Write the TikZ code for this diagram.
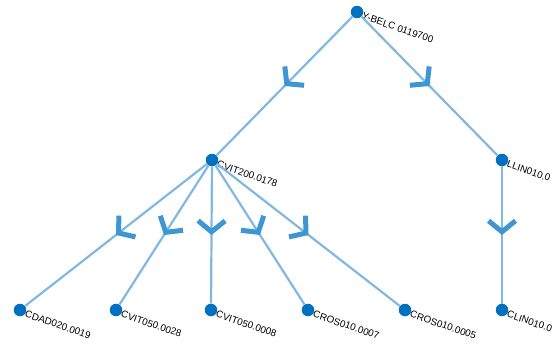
\documentclass[tikz,border=0pt]{standalone}
\usepackage{fontspec}
\setmainfont{Liberation Sans}
\usetikzlibrary{arrows.meta,decorations.markings}

\definecolor{nodeblue}{RGB}{0,112,192}
\definecolor{edgeblue}{RGB}{128,184,226}
\definecolor{chevblue}{RGB}{62,150,210}

\tikzset{
  leaf/.style={circle, fill=nodeblue, inner sep=0pt, minimum size=12.5pt},
  lbl/.style={rotate=-19, anchor=west, inner sep=0pt, font=\fontsize{9.8}{11}\selectfont},
  link/.style={draw=edgeblue, line width=2.2pt, postaction={decorate},
    decoration={markings, mark=at position 0.5 with
      {\arrow[chevblue]{Straight Barb[length=11pt,width=27pt,line width=5pt]}}}}
}

\begin{document}
\begin{tikzpicture}[x=1pt, y=-1pt]

  \clip (0,0) rectangle (555,346);

  % tree nodes
  \node (belc) [leaf, label={[lbl]-35:Y-BELC 0119700}] at (357,12) {};
  \node (cvit200) [leaf, label={[lbl]-35:CVIT200.0178}] at (212,160) {};
  \node (llin) [leaf, label={[lbl]-35:LLIN010.0}] at (502,160) {};
  \node (cdad) [leaf, label={[lbl]-35:CDAD020.0019}] at (20,310) {};
  \node (cvit28) [leaf, label={[lbl]-35:CVIT050.0028}] at (116,310) {};
  \node (cvit08) [leaf, label={[lbl]-35:CVIT050.0008}] at (211,310) {};
  \node (cros07) [leaf, label={[lbl]-35:CROS010.0007}] at (308,310) {};
  \node (cros05) [leaf, label={[lbl]-35:CROS010.0005}] at (405,310) {};
  \node (clin) [leaf, label={[lbl]-35:CLIN010.0}] at (502,310) {};

  \draw [link] (belc) -- (cvit200);
  \draw [link] (belc) -- (llin);
  \draw [link] (cvit200) -- (cdad);
  \draw [link] (cvit200) -- (cvit28);
  \draw [link] (cvit200) -- (cvit08);
  \draw [link] (cvit200) -- (cros07);
  \draw [link] (cvit200) -- (cros05);
  \draw [link] (llin) -- (clin);

\end{tikzpicture}
\end{document}
